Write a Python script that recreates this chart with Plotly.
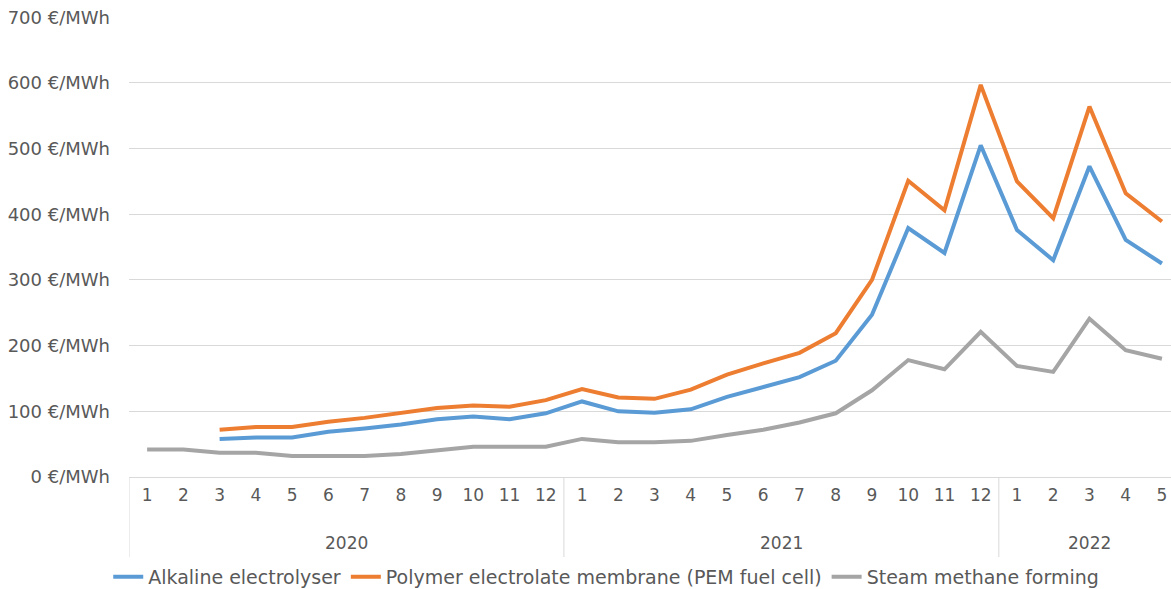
import plotly.graph_objects as go

years = ["2020"] * 12 + ["2021"] * 12 + ["2022"] * 5
months = [str(m) for m in range(1, 13)] * 2 + [str(m) for m in range(1, 6)]
year_labels = ["2020", "2021", "2022"]
y_ticks = [0, 100, 200, 300, 400, 500, 600, 700]
y_tick_labels = [f"{v} €/MWh" for v in y_ticks]

alkaline = [None, None, 58, 60, 60, 69, 74, 80, 88, 92, 88, 97,
            115, 100, 98, 103, 122, 137, 152, 177, 247, 379, 341, 505,
            376, 330, 473, 361, 325]
pem = [None, None, 72, 76, 76, 84, 90, 98, 105, 109, 107, 117,
       134, 121, 119, 133, 156, 173, 189, 219, 300, 451, 406, 597,
       450, 394, 564, 432, 389]
steam = [42, 42, 37, 37, 32, 32, 32, 35, 41, 46, 46, 46,
         58, 53, 53, 55, 64, 72, 83, 97, 132, 178, 164, 221,
         169, 160, 241, 193, 180]

series = [
    ("Alkaline electrolyser", alkaline, "#5B9BD5"),
    ("Polymer electrolate membrane (PEM fuel cell)", pem, "#ED7D31"),
    ("Steam methane forming", steam, "#A5A5A5"),
]

cats = [f"{y}-{m}" for y, m in zip(years, months)]

fig = go.Figure()
for name, vals, color in series:
    fig.add_trace(go.Scatter(
        x=cats, y=vals, name=name, mode="lines",
        line=dict(color=color, width=4), connectgaps=False,
    ))

# year group labels and dividers derived from the category list
grid = "#D9D9D9"
for yl in year_labels:
    idx = [i for i, y in enumerate(years) if y == yl]
    mid = (idx[0] + idx[-1]) / 2
    fig.add_annotation(x=mid, y=0, xref="x", yref="paper", text=yl,
                       showarrow=False, yshift=-66, yanchor="middle",
                       font=dict(size=17, color="#595959"))
    fig.add_shape(type="line", xref="x", yref="paper",
                  x0=idx[0] - 0.5, x1=idx[0] - 0.5, y0=0, y1=-80 / 460,
                  line=dict(color=grid, width=1))

font = dict(family="DejaVu Sans, sans-serif", size=17, color="#595959")
fig.update_layout(
    width=1171, height=589,
    margin=dict(l=129, r=0, t=17, b=112, autoexpand=False),
    paper_bgcolor="white", plot_bgcolor="white",
    font=font,
    showlegend=True,
    legend=dict(orientation="h", x=0.458, xanchor="center", y=-0.217, yanchor="middle",
                font=dict(size=19, color="#595959"), tracegroupgap=0),
)
fig.update_yaxes(
    range=[0, 700.3], tickmode="array", tickvals=y_ticks, ticktext=y_tick_labels,
    automargin=False, tickfont=dict(size=18),
    showgrid=True, gridcolor=grid, gridwidth=1,
    zeroline=False, showline=False, ticks="", ticklabelstandoff=18,
)
fig.update_xaxes(
    type="category", range=[-0.5, 28.25], automargin=False,
    tickvals=cats, ticktext=months,
    showgrid=False, showline=True, linecolor=grid, linewidth=1,
    ticks="", ticklabelstandoff=3,
)
fig.write_html("out.html", config={"displayModeBar": False},
               post_script="document.body.style.margin='0';document.body.style.overflow='hidden';")
